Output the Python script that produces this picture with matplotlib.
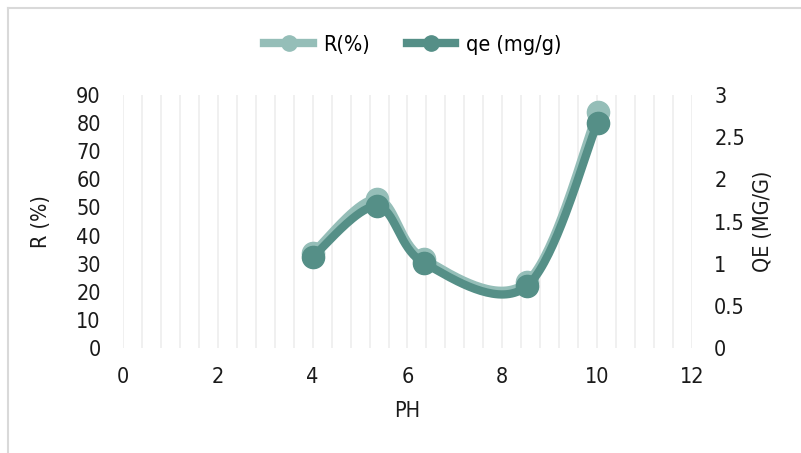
import numpy as np
import matplotlib.pyplot as plt
from matplotlib.lines import Line2D

# valores
ph = [4.0, 5.35, 6.34, 8.51, 10.01]
r_pct = [33.8, 53.0, 31.8, 23.4, 84.0]
qe = [1.08, 1.68, 1.01, 0.73, 2.67]

C_R = "#95beb8"
C_QE = "#558f87"


def suavizar(x, y, n=40):
    # curva tipo Excel: bezier con puntos de control de Catmull-Rom
    x = np.asarray(x, float)
    y = np.asarray(y, float)
    px = np.concatenate([[x[0]], x, [x[-1]]])
    py = np.concatenate([[y[0]], y, [y[-1]]])
    t = np.linspace(0, 1, n)
    xs, ys = [], []
    for i in range(1, len(px) - 2):
        p0 = np.array([px[i], py[i]])
        p3 = np.array([px[i + 1], py[i + 1]])
        p1 = p0 + (np.array([px[i + 1], py[i + 1]]) - np.array([px[i - 1], py[i - 1]])) / 6
        p2 = p3 - (np.array([px[i + 2], py[i + 2]]) - np.array([px[i], py[i]])) / 6
        b = ((1 - t) ** 3)[:, None] * p0 + (3 * (1 - t) ** 2 * t)[:, None] * p1 \
            + (3 * (1 - t) * t ** 2)[:, None] * p2 + (t ** 3)[:, None] * p3
        xs.extend(b[:, 0])
        ys.extend(b[:, 1])
    return xs, ys


plt.rcParams["font.family"] = "DejaVu Sans"
plt.rcParams["font.stretch"] = "condensed"
FS = 15.5
TXT = "#1a1a1a"

fig = plt.figure(figsize=(8.01, 4.53), dpi=100)

# marco del grafico (cortado a la derecha y abajo)
fig.add_artist(Line2D([8 / 801, 8 / 801], [0, 1 - 8 / 453], color="#d9d9d9", lw=1.5))
fig.add_artist(Line2D([8 / 801, 1], [1 - 8 / 453, 1 - 8 / 453], color="#d9d9d9", lw=1.5))

ax = fig.add_axes([123 / 801, 1 - 348 / 453, (692 - 123) / 801, (348 - 95) / 453])
ax2 = ax.twinx()

ax.set_xlim(0, 12)
ax.set_ylim(0, 90)
ax2.set_ylim(0, 3)
ax.set_xticks(np.arange(0, 13, 2))
ax.set_xticks(np.arange(0, 12.01, 0.4), minor=True)
ax.set_yticks(np.arange(0, 91, 10))
ax2.set_yticks([0, 0.5, 1, 1.5, 2, 2.5, 3])
ax2.set_yticklabels(["0", "0.5", "1", "1.5", "2", "2.5", "3"])

ax.grid(True, axis="x", which="both", color="#efefef", lw=1.3)
ax.set_axisbelow(True)
for a in (ax, ax2):
    for s in a.spines.values():
        s.set_visible(False)
    a.tick_params(which="both", length=0, labelsize=FS, colors=TXT)
ax.tick_params(axis="x", pad=14)
ax.tick_params(axis="y", pad=16)
ax2.tick_params(axis="y", pad=16)

xs, ys = suavizar(ph, r_pct)
ax.plot(xs, ys, color=C_R, lw=6, solid_capstyle="round", zorder=3)
ax.plot(ph, r_pct, "o", color=C_R, ms=16, zorder=4)

xs2, ys2 = suavizar(ph, qe)
ax2.plot(xs2, ys2, color=C_QE, lw=6, solid_capstyle="round", zorder=3)
ax2.plot(ph, qe, "o", color=C_QE, ms=16, zorder=4)

ax.set_xlabel("PH", fontsize=FS, color=TXT, labelpad=10)
ax.set_ylabel("R (%)", fontsize=FS, color=TXT, labelpad=18)
ax2.set_ylabel("QE (MG/G)", fontsize=FS, color=TXT, labelpad=6)

handles = [
    Line2D([], [], color=C_R, lw=6, marker="o", ms=11),
    Line2D([], [], color=C_QE, lw=6, marker="o", ms=11),
]
fig.legend(handles, ["R(%)", "qe (mg/g)"], loc="center", bbox_to_anchor=(413 / 801, 1 - 45 / 453),
           ncol=2, frameon=False, fontsize=FS, handlelength=2.25, columnspacing=1.7,
           handletextpad=0.5)

fig.savefig("out.png", dpi=100)
